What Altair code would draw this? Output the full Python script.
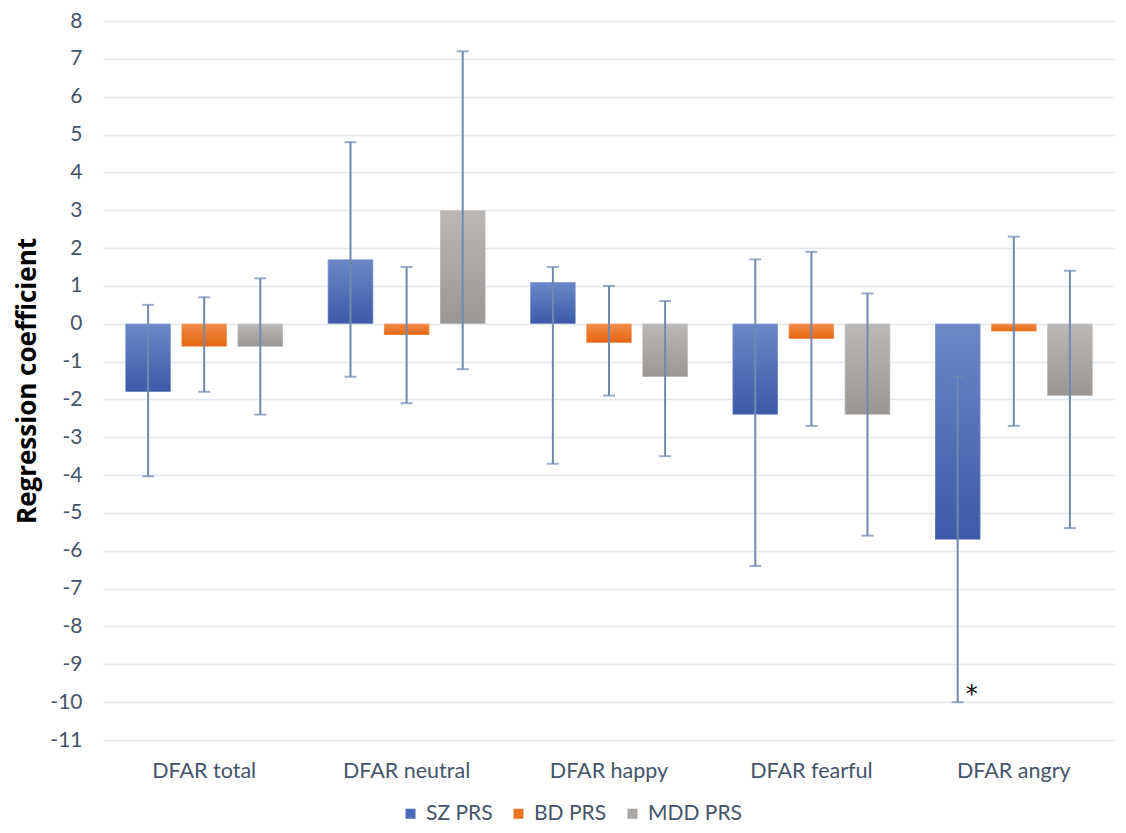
import altair as alt
import pandas as pd

categories = ["DFAR total", "DFAR neutral", "DFAR happy", "DFAR fearful", "DFAR angry"]
series = ["SZ PRS", "BD PRS", "MDD PRS"]

sz_coef = [-1.8, 1.7, 1.1, -2.4, -5.7]
sz_lo = [-4.03, -1.4, -3.7, -6.4, -10.0]
sz_hi = [0.5, 4.8, 1.5, 1.7, -1.4]
sz_sig = ["", "", "", "", "*"]

bd_coef = [-0.6, -0.3, -0.5, -0.4, -0.2]
bd_lo = [-1.8, -2.1, -1.9, -2.7, -2.7]
bd_hi = [0.7, 1.5, 1.0, 1.9, 2.3]
bd_sig = ["", "", "", "", ""]

mdd_coef = [-0.6, 3.0, -1.4, -2.4, -1.9]
mdd_lo = [-2.4, -1.2, -3.5, -5.6, -5.4]
mdd_hi = [1.2, 7.2, 0.6, 0.8, 1.4]
mdd_sig = ["", "", "", "", ""]

y_ticks = list(range(-11, 9))

legend_colors = ["#4a6cb8", "#ec7424", "#a9a6a4"]
grad_top = ["#6b88c8", "#f08c48", "#bbb8b6"]
grad_bottom = ["#3b5aa8", "#e5660f", "#9a9694"]

rows = []
for s, coef, lo, hi, sig in [
    ("SZ PRS", sz_coef, sz_lo, sz_hi, sz_sig),
    ("BD PRS", bd_coef, bd_lo, bd_hi, bd_sig),
    ("MDD PRS", mdd_coef, mdd_lo, mdd_hi, mdd_sig),
]:
    for c, v, l, h, g in zip(categories, coef, lo, hi, sig):
        rows.append({"category": c, "series": s, "coef": v, "lo": l, "hi": h, "sig": g})
df = pd.DataFrame(rows)

FONT = "Lato"
TXT = "#44546a"
ERR = "#7189b0"

x_enc = alt.X(
    "category:N",
    sort=categories,
    scale=alt.Scale(paddingInner=0, paddingOuter=0),
    axis=alt.Axis(
        title=None, labelAngle=0, labelFont=FONT, labelFontSize=21.5, labelColor=TXT,
        domain=False, ticks=False, labelPadding=20, grid=False,
    ),
)
xo_enc = alt.XOffset(
    "series:N", sort=series,
    scale=alt.Scale(domain=series, paddingInner=0.193, paddingOuter=0.40),
)


def y_enc(field):
    return alt.Y(
        f"{field}:Q",
        scale=alt.Scale(domain=[-11, 8], nice=False, zero=False),
        title="Regression coefficient",
        axis=alt.Axis(
            values=y_ticks, labelExpr="datum.value + ''",
            labelFont=FONT, labelFontSize=21, labelColor=TXT,
            domain=False, ticks=False, tickSize=0, labelPadding=21,
            gridColor="#e2e6ee", gridWidth=1.4,
            titleFont="Open Sans", titleFontSize=26, titleFontWeight="bold", titleColor="black",
            titlePadding=9,
        ),
    )


base = alt.Chart(df)

solid = base.mark_bar().encode(
    x=x_enc, xOffset=xo_enc, y=y_enc("coef"), y2=alt.datum(0),
    color=alt.Color(
        "series:N", sort=series,
        scale=alt.Scale(domain=series, range=legend_colors),
        legend=alt.Legend(
            orient="none", legendX=297, legendY=782, direction="horizontal", title=None,
            symbolType="square", symbolSize=100, symbolStrokeWidth=0,
            labelFont=FONT, labelFontSize=21, labelColor=TXT, columnPadding=15,
            labelOffset=5, padding=0,
        ),
    ),
)

layers = [solid]
for s, t, b in zip(series, grad_top, grad_bottom):
    grad = {
        "gradient": "linear", "x1": 0, "y1": 0, "x2": 0, "y2": 1,
        "stops": [{"offset": 0, "color": t}, {"offset": 1, "color": b}],
    }
    layers.append(
        base.transform_filter(alt.datum.series == s)
        .mark_bar(fill=grad, stroke="#ffffff", strokeOpacity=0.35, strokeWidth=1)
        .encode(x=x_enc, xOffset=xo_enc, y=y_enc("coef"), y2=alt.datum(0))
    )

err = base.mark_rule(color=ERR, strokeWidth=2).encode(
    x=x_enc, xOffset=xo_enc, y=y_enc("lo"), y2="hi:Q"
)
cap_lo = base.mark_tick(color=ERR, size=12, thickness=2, orient="horizontal").encode(
    x=x_enc, xOffset=xo_enc, y=y_enc("lo")
)
cap_hi = base.mark_tick(color=ERR, size=12, thickness=2, orient="horizontal").encode(
    x=x_enc, xOffset=xo_enc, y=y_enc("hi")
)
star = base.mark_text(dx=14, dy=-7, fontSize=24, color="black", font="DejaVu Sans", baseline="middle").encode(
    x=x_enc, xOffset=xo_enc, y=y_enc("lo"), text="sig:N"
)

chart = (
    alt.layer(*layers, err, cap_lo, cap_hi, star)
    .properties(width=1012, height=719, padding={"left": 6, "top": 2, "right": 0, "bottom": 0})
    .configure_view(stroke=None)
)

chart.save("out.html", embed_options={"renderer": "svg", "actions": False})
